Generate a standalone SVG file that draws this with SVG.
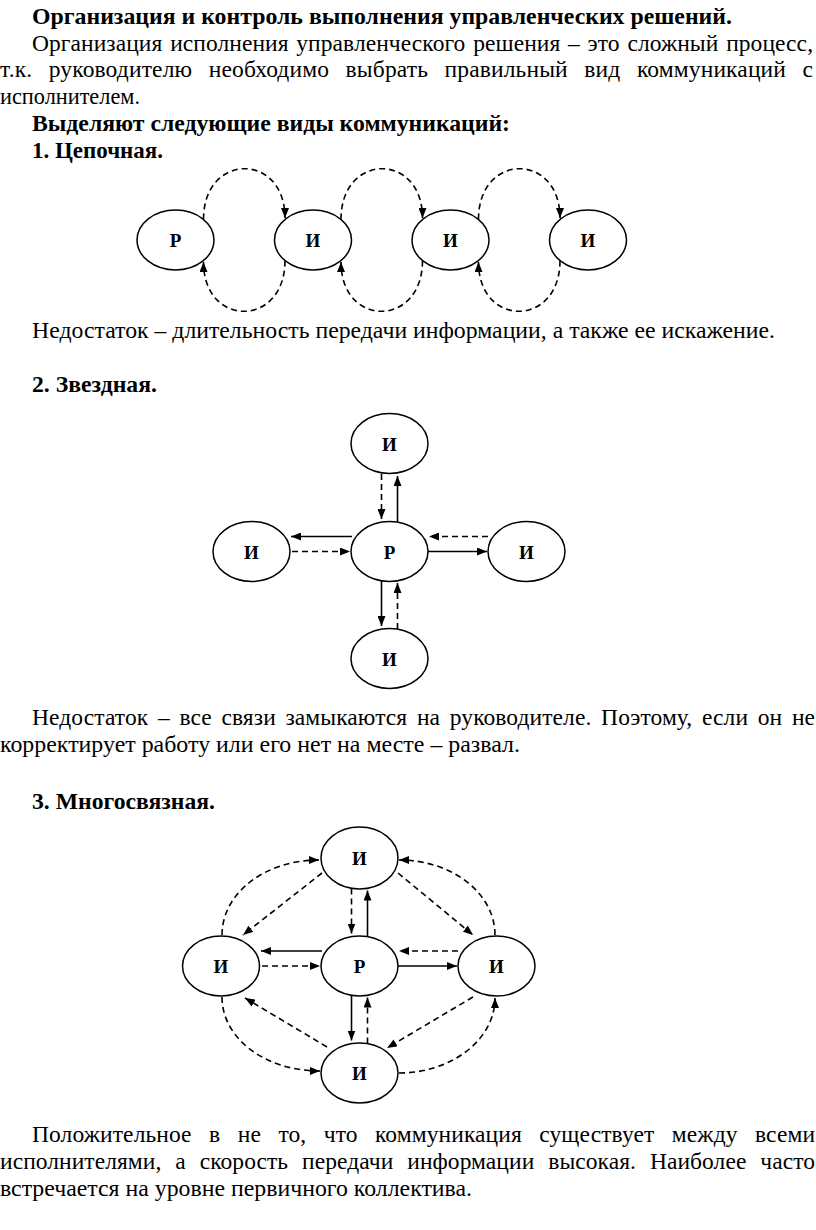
<svg xmlns="http://www.w3.org/2000/svg" width="816" height="1230" viewBox="0 0 816 1230">
<style>
text{font-family:"Liberation Serif","Times New Roman",serif;fill:#000}
.t{font-size:23.5px}
.b{font-size:23.5px;font-weight:bold}
.lbl{font-size:19px;font-weight:bold;text-anchor:middle}
.node ellipse{fill:#fff;stroke:#000;stroke-width:1.5}
.c path{fill:none;stroke:#000;stroke-width:1.6}
.c .d{stroke-dasharray:6 4}
.c .a{marker-end:url(#arr)}
</style>
<defs>
<marker id="arr" viewBox="0 0 10 8" markerWidth="10" markerHeight="8" refX="10" refY="4" orient="auto" markerUnits="userSpaceOnUse">
<path d="M0,0 L10,4 L0,8 z" fill="#000"/>
</marker>
</defs>
<rect width="816" height="1230" fill="#fff"/>

<g id="text">
<text class="b" x="32" y="24" textLength="700" lengthAdjust="spacingAndGlyphs">Организация и контроль выполнения управленческих решений.</text>
<text class="t" x="32" y="51" word-spacing="1.8" textLength="781" lengthAdjust="spacing">Организация исполнения управленческого решения – это сложный процесс,</text>
<text class="t" x="0" y="77" word-spacing="10.5" textLength="813" lengthAdjust="spacing">т.к. руководителю необходимо выбрать правильный вид коммуникаций с</text>
<text class="t" x="0" y="104" textLength="140" lengthAdjust="spacingAndGlyphs">исполнителем.</text>
<text class="b" x="32" y="131" textLength="478" lengthAdjust="spacingAndGlyphs">Выделяют следующие виды коммуникаций:</text>
<text class="b" x="32" y="158" textLength="131" lengthAdjust="spacingAndGlyphs">1. Цепочная.</text>
<text class="t" x="32" y="338" textLength="743" lengthAdjust="spacingAndGlyphs">Недостаток – длительность передачи информации, а также ее искажение.</text>
<text class="b" x="32" y="392" textLength="125" lengthAdjust="spacingAndGlyphs">2. Звездная.</text>
<text class="t" x="32" y="725" word-spacing="3.7" textLength="783" lengthAdjust="spacing">Недостаток – все связи замыкаются на руководителе. Поэтому, если он не</text>
<text class="t" x="0" y="752" textLength="520" lengthAdjust="spacingAndGlyphs">корректирует работу или его нет на месте – развал.</text>
<text class="b" x="32" y="809" textLength="183" lengthAdjust="spacingAndGlyphs">3. Многосвязная.</text>
<text class="t" x="32" y="1142" word-spacing="11.5" textLength="783" lengthAdjust="spacing">Положительное в не то, что коммуникация существует между всеми</text>
<text class="t" x="0" y="1169" word-spacing="8" textLength="815" lengthAdjust="spacing">исполнителями, а скорость передачи информации высокая. Наиболее часто</text>
<text class="t" x="0" y="1196" textLength="472" lengthAdjust="spacingAndGlyphs">встречается на уровне первичного коллектива.</text>
</g>

<g id="connectors" class="c">
<!-- chain -->
<path class="d a" d="M203.5,219.5 C203.5,152 285,152 285,218"/>
<path class="d a" d="M285,260.5 C285,328 203.5,328 203.5,262"/>
<path class="d a" d="M341,219.5 C341,152 422.5,152 422.5,218"/>
<path class="d a" d="M422.5,260.5 C422.5,328 341,328 341,262"/>
<path class="d a" d="M478.5,219.5 C478.5,152 560,152 560,218"/>
<path class="d a" d="M560,260.5 C560,328 478.5,328 478.5,262"/>
<!-- star -->
<path class="d a" d="M381.5,474 L381.5,519"/>
<path class="a" d="M397.5,522 L397.5,476"/>
<path class="a" d="M352,536.5 L291,536.5"/>
<path class="d a" d="M292,551.5 L350,551.5"/>
<path class="d a" d="M488,536.5 L429,536.5"/>
<path class="a" d="M428,551.5 L487,551.5"/>
<path class="a" d="M381.5,581 L381.5,626"/>
<path class="d a" d="M397.5,629 L397.5,583"/>
<!-- multi inner -->
<path class="d a" d="M351.5,888.5 L351.5,933.5"/>
<path class="a" d="M367.5,936.5 L367.5,890.5"/>
<path class="a" d="M322,951 L261,951"/>
<path class="d a" d="M262,966 L320,966"/>
<path class="d a" d="M458,951 L399,951"/>
<path class="a" d="M398,966 L457,966"/>
<path class="a" d="M351.5,995.5 L351.5,1040.5"/>
<path class="d a" d="M367.5,1043.5 L367.5,997.5"/>
<!-- multi outer arcs -->
<path class="d a" d="M222,935 C222,893.6 264.5,860 319,860"/>
<path class="d a" d="M495,935 C495,893.6 452.5,860 399,860"/>
<path class="d a" d="M222,997 C222,1038 264.5,1071 320,1071"/>
<path class="d a" d="M399,1073 C451,1073 495,1040 495,998"/>
<!-- multi diagonals -->
<path class="d a" d="M322,873 L243,935"/>
<path class="d a" d="M398,873 L473,935"/>
<path class="d a" d="M327,1047 L245,998"/>
<path class="d a" d="M473,997 L387,1048"/>
</g>

<g id="chain-r" class="node"><ellipse cx="175.5" cy="240" rx="38.5" ry="30"/><text class="lbl" x="175.5" y="247">Р</text></g>
<g id="chain-i1" class="node"><ellipse cx="313" cy="240" rx="38.5" ry="30"/><text class="lbl" x="313" y="247">И</text></g>
<g id="chain-i2" class="node"><ellipse cx="450.5" cy="240" rx="38.5" ry="30"/><text class="lbl" x="450.5" y="247">И</text></g>
<g id="chain-i3" class="node"><ellipse cx="588" cy="240" rx="38.5" ry="30"/><text class="lbl" x="588" y="247">И</text></g>

<g id="star-r" class="node"><ellipse cx="389.5" cy="551.5" rx="38.5" ry="30"/><text class="lbl" x="389.5" y="558.5">Р</text></g>
<g id="star-top" class="node"><ellipse cx="389.5" cy="443.5" rx="38.5" ry="30"/><text class="lbl" x="389.5" y="450.5">И</text></g>
<g id="star-left" class="node"><ellipse cx="251.5" cy="551.5" rx="38.5" ry="30"/><text class="lbl" x="251.5" y="558.5">И</text></g>
<g id="star-right" class="node"><ellipse cx="526.5" cy="551.5" rx="38.5" ry="30"/><text class="lbl" x="526.5" y="558.5">И</text></g>
<g id="star-bottom" class="node"><ellipse cx="389.5" cy="658.5" rx="38.5" ry="30"/><text class="lbl" x="389.5" y="665.5">И</text></g>

<g id="multi-r" class="node"><ellipse cx="359.5" cy="966" rx="38.5" ry="30"/><text class="lbl" x="359.5" y="973">Р</text></g>
<g id="multi-top" class="node"><ellipse cx="359.5" cy="858" rx="38.5" ry="31"/><text class="lbl" x="359.5" y="865">И</text></g>
<g id="multi-left" class="node"><ellipse cx="221" cy="966" rx="38.5" ry="30"/><text class="lbl" x="221" y="973">И</text></g>
<g id="multi-right" class="node"><ellipse cx="496.5" cy="966" rx="38.5" ry="30"/><text class="lbl" x="496.5" y="973">И</text></g>
<g id="multi-bottom" class="node"><ellipse cx="359.5" cy="1073" rx="38.5" ry="30"/><text class="lbl" x="359.5" y="1080">И</text></g>
</svg>
